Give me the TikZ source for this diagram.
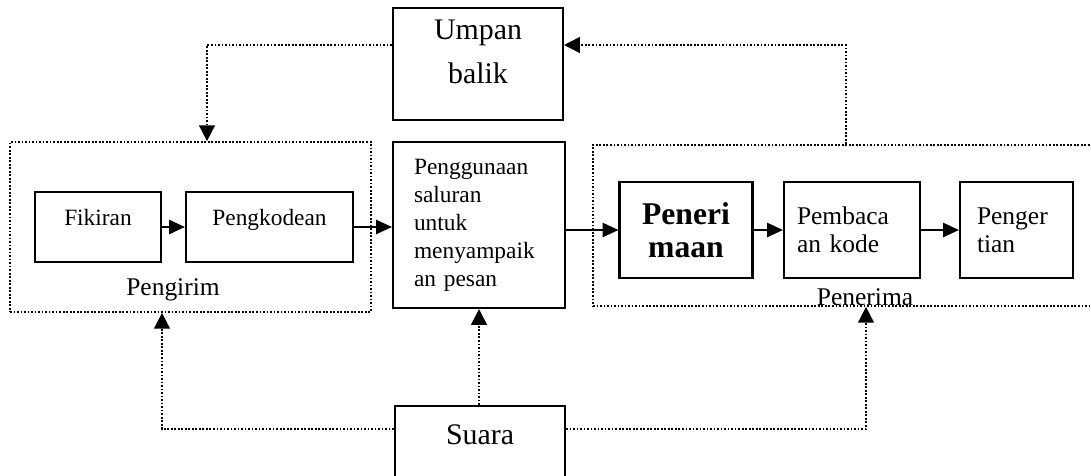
\documentclass[tikz,border=0pt]{standalone}
\usepackage{fontspec}
\setmainfont{Liberation Serif}
\usetikzlibrary{arrows.meta,positioning,calc}

\begin{document}
\begin{tikzpicture}[x=0.02cm,y=-0.02cm,every node/.style={align=center},
  box/.style={draw,line width=1.2pt,inner sep=2pt},
  grp/.style={draw,line width=1pt,dash pattern=on 1pt off 1pt,inner sep=0pt},
  link/.style={line width=1.2pt,-{Triangle[length=9pt,width=8pt]}},
  fb/.style={line width=1pt,dash pattern=on 1pt off 1pt,-{Triangle[length=9pt,width=9pt]}},
  big/.style={font=\fontsize{17}{25}\selectfont},
  mid/.style={font=\fontsize{14.5}{16}\selectfont},
  small/.style={font=\fontsize{13.3}{15.9}\selectfont}]
  \useasboundingbox (0,0) rectangle (1091,476);

  \node[box,big,text depth=0.48cm,minimum width=3.4cm,minimum height=2.24cm] (umpan) at (478,64) {Umpan\\balik};

  \node[grp,minimum width=7.22cm,minimum height=3.4cm] (pgrm) at (190.5,227) {};
  \node[box,small,text depth=0.38cm,minimum width=2.52cm,minimum height=1.4cm] (fikiran) at (98,227) {Fikiran};
  \node[box,small,text depth=0.38cm,minimum width=3.34cm,minimum height=1.4cm] (pengkodean) at (269.5,227) {Pengkodean};
  \node[mid] (lblpgrm) at (173,290) {Pengirim};

  \node[box,small,align=left,text width=2.6cm,minimum width=3.44cm,minimum height=3.32cm] (saluran) at (479,225)
    {Penggunaan\\saluran\\untuk\\menyampaik\\an pesan};

  \node[grp,minimum width=10.14cm,minimum height=3.22cm] (pnrm) at (846.5,225.5) {};
  \node[box,font=\fontsize{18}{19}\selectfont\bfseries,minimum width=2.66cm,minimum height=1.92cm] (peneri) at (686,230) {Peneri\\maan};
  \node[box,mid,align=left,text width=2.2cm,minimum width=2.72cm,minimum height=1.92cm] (pembaca) at (852,230) {Pembaca\\an kode};
  \node[box,mid,align=left,text width=1.58cm,minimum width=2.26cm,minimum height=1.92cm] (pengertian) at (1016.5,230) {Penger\\tian};
  \node[mid] (lblpnrm) at (865,297) {Penerima};

  \node[box,big,anchor=north,minimum width=3.4cm,text height=0.7cm,text depth=1cm] (suara) at (480,405) {Suara};

  \foreach \a/\b in {fikiran/pengkodean,peneri/pembaca,pembaca/pengertian}
    \draw[link] (\a) -- (\b);
  \draw[link] (pengkodean.east) -- (pengkodean.east -| saluran.west);
  \draw[link] (peneri.west -| saluran.east) -- (peneri.west);

  \coordinate (fbtop) at (846,45);
  \coordinate (fbleft) at (207,45);
  \draw[fb] (fbtop |- pnrm.north) -- (fbtop) -- (fbtop -| umpan.east);
  \draw[fb] (fbleft -| umpan.west) -- (fbleft) -- (fbleft |- pgrm.north);

  \coordinate (sl) at (162,429);
  \coordinate (sr) at (866,429);
  \draw[fb] (sl -| suara.west) -- (sl) -- (sl |- pgrm.south);
  \draw[fb] (suara.north -| saluran.south) -- (saluran.south);
  \draw[fb] (sr -| suara.east) -- (sr) -- (sr |- pnrm.south);
\end{tikzpicture}
\end{document}
